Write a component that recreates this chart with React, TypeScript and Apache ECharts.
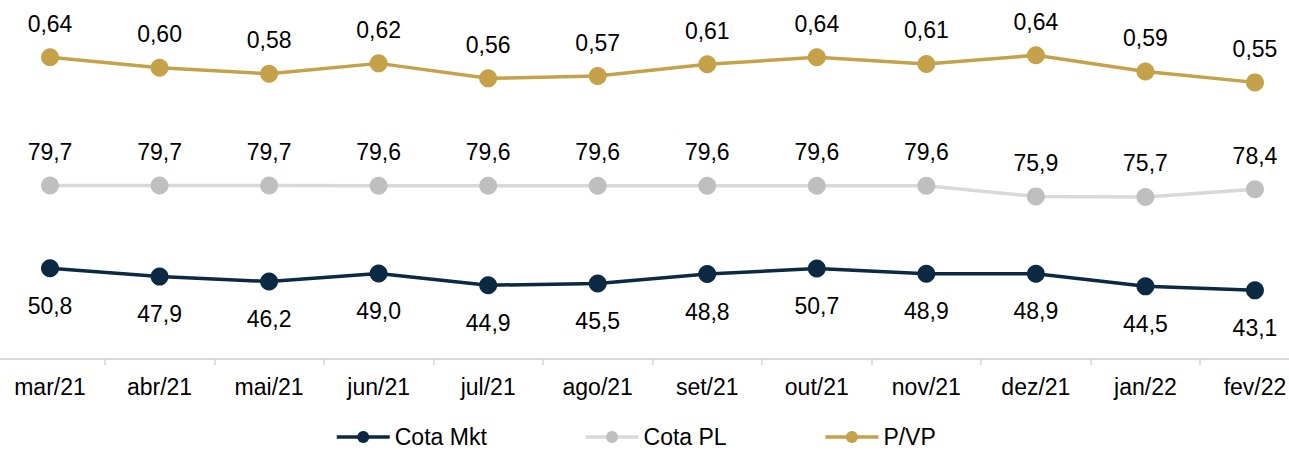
import React, { useEffect, useRef } from "react";
import * as echarts from "echarts";

const categories = ["mar/21", "abr/21", "mai/21", "jun/21", "jul/21", "ago/21", "set/21", "out/21", "nov/21", "dez/21", "jan/22", "fev/22"];
const cotaMkt = [50.8, 47.9, 46.2, 49.0, 44.9, 45.5, 48.8, 50.7, 48.9, 48.9, 44.5, 43.1];
const cotaPL = [79.7, 79.7, 79.7, 79.6, 79.6, 79.6, 79.6, 79.6, 79.6, 75.9, 75.7, 78.4];
const pvp = [0.637, 0.601, 0.58, 0.616, 0.564, 0.572, 0.613, 0.637, 0.614, 0.644, 0.588, 0.55];
const seriesNames = ["Cota Mkt", "Cota PL", "P/VP"];

const NAVY = "#0b2942";
const GOLD = "#c5a14a";
const GRAY_LINE = "#d9d9d9";
const GRAY_DOT = "#bfbfbf";
const FONT = "'Liberation Sans', Arial, sans-serif";

const fmt = (d: number) => (p: any) => Number(p.value).toFixed(d).replace(".", ",");

export default function App() {
  const ref = useRef<HTMLDivElement>(null);
  useEffect(() => {
    if (!ref.current) return;
    const chart = echarts.init(ref.current, null, { renderer: "svg" });
    const labelBase = { show: true, fontSize: 23, color: "#000", fontFamily: FONT };
    chart.setOption({
      animation: false,
      textStyle: { fontFamily: FONT },
      grid: { left: -4.77, width: 1314.5, top: 9, height: 350, outerBoundsMode: "none", containLabel: false },
      legend: {
        data: seriesNames,
        left: 335,
        top: 425.5,
        padding: 0,
        itemWidth: 53,
        itemHeight: 15,
        itemGap: 97,
        textStyle: { fontSize: 23, lineHeight: 18, color: "#000", fontFamily: FONT },
        lineStyle: { width: 3.5 },
      },
      xAxis: {
        type: "category",
        data: categories,
        boundaryGap: true,
        axisLine: { show: true, onZero: false, lineStyle: { color: GRAY_LINE, width: 2 } },
        axisTick: { show: true, length: 6, lineStyle: { color: GRAY_LINE, width: 1.6 } },
        axisLabel: { fontSize: 23, color: "#000", margin: 16, fontFamily: FONT, interval: 0 },
        splitLine: { show: false },
      },
      yAxis: [
        { type: "value", min: 19.14, max: 141.3, show: false, splitLine: { show: false } },
        { type: "value", min: -0.4105, max: 0.8048, show: false, splitLine: { show: false } },
      ],
      series: [
        {
          name: seriesNames[0],
          type: "line",
          data: cotaMkt,
          yAxisIndex: 0,
          symbol: "circle",
          symbolSize: 18,
          lineStyle: { color: NAVY, width: 3.5 },
          itemStyle: { color: NAVY, borderWidth: 0 },
          label: { ...labelBase, position: "bottom", distance: 17, formatter: fmt(1) },
        },
        {
          name: seriesNames[1],
          type: "line",
          data: cotaPL,
          yAxisIndex: 0,
          symbol: "circle",
          symbolSize: 18,
          lineStyle: { color: GRAY_LINE, width: 3.5 },
          itemStyle: { color: GRAY_DOT, borderWidth: 0 },
          label: { ...labelBase, position: "top", distance: 13, formatter: fmt(1) },
        },
        {
          name: seriesNames[2],
          type: "line",
          data: pvp,
          yAxisIndex: 1,
          symbol: "circle",
          symbolSize: 18,
          lineStyle: { color: GOLD, width: 3.5 },
          itemStyle: { color: GOLD, borderWidth: 0 },
          label: { ...labelBase, position: "top", distance: 13, formatter: fmt(2) },
        },
      ],
    });
    return () => chart.dispose();
  }, []);
  return (
    <div
      ref={ref}
      style={{ position: "absolute", left: 0, top: 0, width: 1289, height: 450, background: "#fff" }}
    />
  );
}
